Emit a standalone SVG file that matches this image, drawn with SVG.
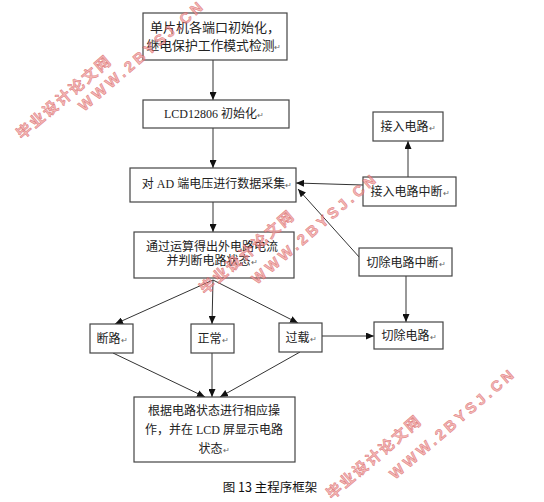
<svg xmlns="http://www.w3.org/2000/svg" width="544" height="502" viewBox="0 0 544 502">
<style>
.box{fill:#fff;stroke:#444;stroke-width:1.2}
.t{font-family:"Liberation Serif","Noto Sans CJK SC",serif;font-size:12px;fill:#222;text-anchor:middle}
.pm{font-size:8px;fill:#666}
.ln{stroke:#333;stroke-width:1;fill:none}
.wm{font-family:"Liberation Sans","Noto Sans CJK SC",sans-serif;font-weight:bold;font-size:15px;fill:#f0a0a0;stroke:#d24a4a;stroke-width:0.5;opacity:0.75}
</style>
<defs>
<marker id="ah" markerWidth="8" markerHeight="7" refX="8" refY="3.5" orient="auto" markerUnits="userSpaceOnUse">
<path d="M0,0 L8,3.5 L0,7 z" fill="#111"/>
</marker>
</defs>
<rect width="544" height="502" fill="#fff"/>
<g id="connectors">
<line class="ln" x1="213" y1="60" x2="213" y2="100" marker-end="url(#ah)"/>
<line class="ln" x1="213" y1="128" x2="213" y2="168" marker-end="url(#ah)"/>
<line class="ln" x1="213" y1="202" x2="213" y2="232" marker-end="url(#ah)"/>
<line class="ln" x1="408" y1="177" x2="408" y2="141" marker-end="url(#ah)"/>
<line class="ln" x1="363" y1="185" x2="296" y2="183" marker-end="url(#ah)"/>
<line class="ln" x1="360" y1="258" x2="298" y2="189" marker-end="url(#ah)"/>
<line class="ln" x1="406" y1="276" x2="406" y2="322" marker-end="url(#ah)"/>
<line class="ln" x1="213" y1="280" x2="115" y2="324" marker-end="url(#ah)"/>
<line class="ln" x1="213" y1="280" x2="212" y2="324" marker-end="url(#ah)"/>
<line class="ln" x1="213" y1="280" x2="298" y2="323" marker-end="url(#ah)"/>
<line class="ln" x1="322" y1="336" x2="374" y2="336" marker-end="url(#ah)"/>
<line class="ln" x1="113" y1="353" x2="205" y2="397" marker-end="url(#ah)"/>
<line class="ln" x1="212" y1="353" x2="212" y2="397" marker-end="url(#ah)"/>
<line class="ln" x1="300" y1="352" x2="220" y2="397" marker-end="url(#ah)"/>
</g>
<g id="n1"><rect class="box" x="143" y="13" width="144" height="47"/>
<text class="t" x="215" y="32" style="font-size:13px">单片机各端口初始化，</text>
<text class="t" x="214" y="50" style="font-size:12.8px">继电保护工作模式检测<tspan class="pm">↵</tspan></text></g>
<g id="n2"><rect class="box" x="143" y="100" width="146" height="28"/>
<text class="t" x="214" y="118">LCD12806 初始化<tspan class="pm">↵</tspan></text></g>
<g id="n3"><rect class="box" x="130" y="168" width="166" height="34"/>
<text class="t" x="217" y="188">对 AD 端电压进行数据采集<tspan class="pm">↵</tspan></text></g>
<g id="n4"><rect class="box" x="134" y="232" width="160" height="46"/>
<text class="t" x="212" y="251">通过运算得出外电路电流</text>
<text class="t" x="212" y="265">并判断电路状态<tspan class="pm">↵</tspan></text></g>
<g id="n5"><rect class="box" x="373" y="112" width="70" height="29"/>
<text class="t" x="408" y="131">接入电路<tspan class="pm">↵</tspan></text></g>
<g id="n6"><rect class="box" x="363" y="177" width="93" height="29"/>
<text class="t" x="410" y="196">接入电路中断<tspan class="pm">↵</tspan></text></g>
<g id="n7"><rect class="box" x="359" y="248" width="93" height="28"/>
<text class="t" x="406" y="267">切除电路中断<tspan class="pm">↵</tspan></text></g>
<g id="n8"><rect class="box" x="374" y="322" width="69" height="27"/>
<text class="t" x="409" y="340">切除电路<tspan class="pm">↵</tspan></text></g>
<g id="n9"><rect class="box" x="90" y="324" width="43" height="29"/>
<text class="t" x="112" y="343">断路<tspan class="pm">↵</tspan></text></g>
<g id="n10"><rect class="box" x="191" y="324" width="43" height="29"/>
<text class="t" x="213" y="343">正常<tspan class="pm">↵</tspan></text></g>
<g id="n11"><rect class="box" x="279" y="323" width="43" height="29"/>
<text class="t" x="301" y="342">过载<tspan class="pm">↵</tspan></text></g>
<g id="n12"><rect class="box" x="134" y="397" width="161" height="65"/>
<text class="t" x="214" y="415">根据电路状态进行相应操</text>
<text class="t" x="214" y="434">作，并在 LCD 屏显示电路</text>
<text class="t" x="214" y="453">状态<tspan class="pm">↵</tspan></text></g>
<text x="270" y="492" style="font-family:'Noto Sans CJK SC',sans-serif;font-size:12.5px;fill:#111;text-anchor:middle">图 13 主程序框架</text>
<g id="watermarks">
<text class="wm" x="22" y="140" transform="rotate(-40.5 22 140)" textLength="118" lengthAdjust="spacing">毕业设计论文网</text>
<text class="wm" x="84" y="112" transform="rotate(-40.7 84 112)" textLength="158" lengthAdjust="spacing">WWW.2BYSJ.CN</text>
<text class="wm" x="205" y="295" transform="rotate(-40.5 205 295)" textLength="118" lengthAdjust="spacing">毕业设计论文网</text>
<text class="wm" x="257" y="285" transform="rotate(-40.7 257 285)" textLength="158" lengthAdjust="spacing">WWW.2BYSJ.CN</text>
<text class="wm" x="332" y="500" transform="rotate(-40.5 332 500)" textLength="118" lengthAdjust="spacing">毕业设计论文网</text>
<text class="wm" x="395" y="480" transform="rotate(-40.7 395 480)" textLength="158" lengthAdjust="spacing">WWW.2BYSJ.CN</text>
</g>
</svg>
